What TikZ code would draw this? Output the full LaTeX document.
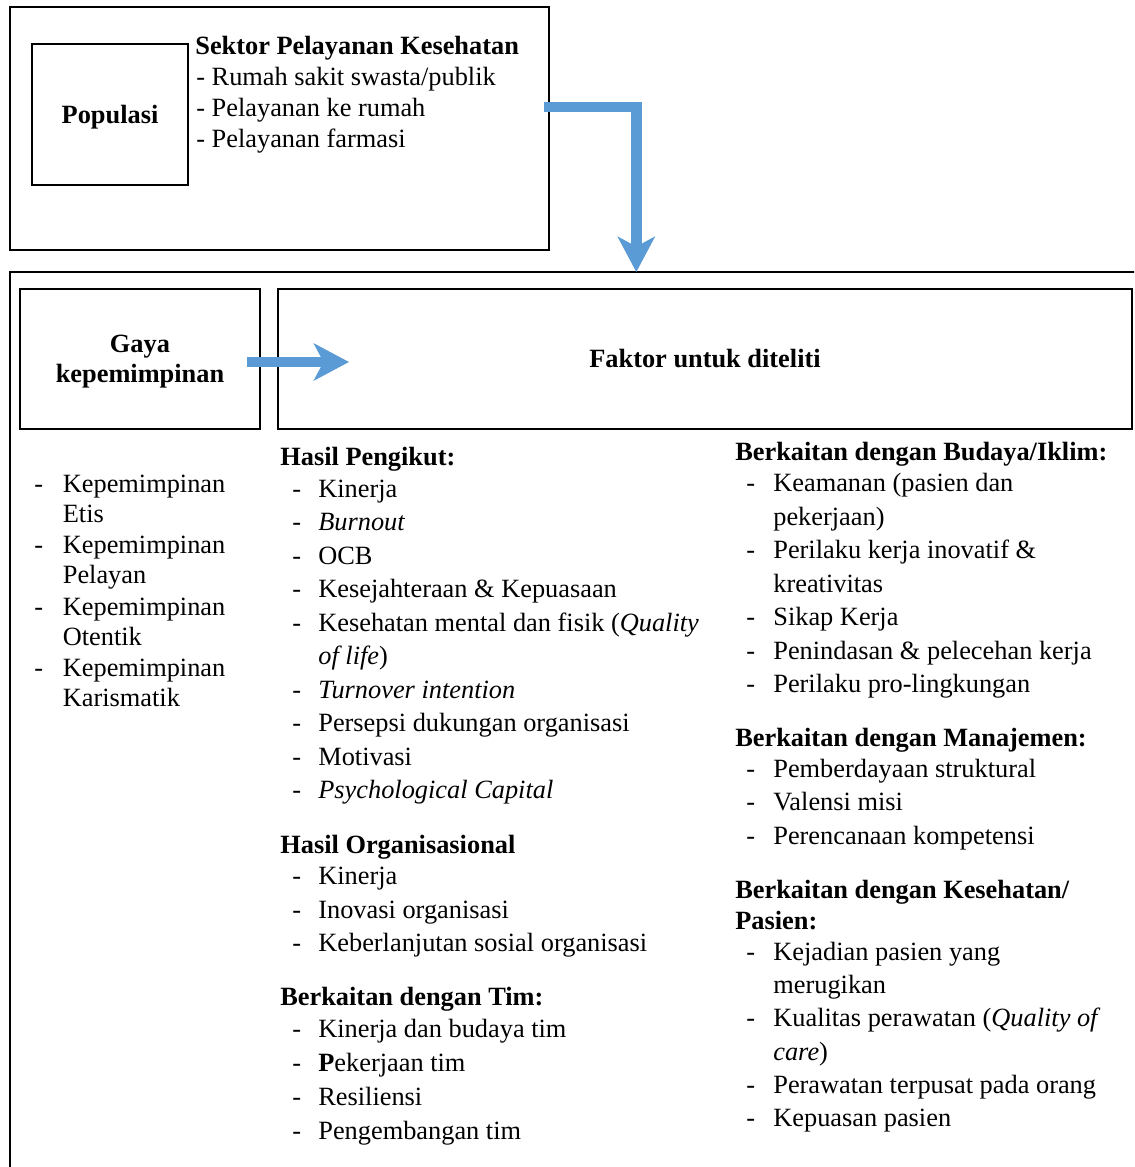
\documentclass[tikz,border=0pt]{standalone}
\usepackage{fontspec}
\setmainfont{Liberation Serif}
\usetikzlibrary{arrows.meta,positioning}
\definecolor{arrowblue}{RGB}{91,155,213}

\begin{document}
\begin{tikzpicture}[x=0.02cm, y=-0.02cm, font=\fontsize{15}{17}\selectfont,
  box/.style={draw, line width=1.2pt, inner sep=0pt},
  bf/.style={font=\fontsize{15}{17}\selectfont\bfseries},
  txt/.style={anchor=base west, inner sep=0pt},
  hd/.style={txt, bf},
  bluearrow/.style={draw=arrowblue, line width=6pt, -{Stealth[length=20pt, width=21pt, inset=5.5pt]}}]
  \useasboundingbox (0,0) rectangle (1134,1167);
  \clip (0,0) rectangle (1134,1167);

  % top part: population and sector
  \node[box, minimum width=10.78cm, minimum height=4.86cm] (sektorbox) at (279.5,128.5) {};
  \node[box, bf, text depth=0pt, minimum width=3.12cm, minimum height=2.82cm] (pop) at (110,114.5) {Populasi};
  \node[hd] (sek) at (195,54) {Sektor Pelayanan Kesehatan};
  \node[txt] (sek1) at (196,85) {- Rumah sakit swasta/publik};
  \node[txt] (sek2) at (196,116) {- Pelayanan ke rumah};
  \node[txt] (sek3) at (196,147) {- Pelayanan farmasi};

  % lower frame
  \draw[line width=1.2pt] (10,272) rectangle (1170,1200);
  \coordinate (drop) at (636.3,272);
  \node[box, bf, align=center, text depth=0pt, minimum width=4.8cm, minimum height=2.8cm] (gaya) at (140,359) {Gaya\\kepemimpinan};
  \node[box, bf, minimum width=17.08cm, minimum height=2.8cm] (faktor) at (705,359) {Faktor untuk diteliti};

  \draw[bluearrow] ([shift={(-6,-21.5)}]sektorbox.east) -| (drop);
  \draw[bluearrow] ([shift={(-14,3)}]gaya.east) -- ([shift={(72,3)}]faktor.west);

  % leadership styles
  \foreach \y/\t [count=\i] in {492/Etis, 553/Pelayan, 615/Otentik, 676/Karismatik}{
    \node[txt] (ld\i) at (34,\y) {-};
    \node[txt] (lk\i) at (62.5,\y) {Kepemimpinan};
    \node[txt] (lt\i) at (62.5,\y+30.5) {\t};
  }

  % follower outcomes
  \node[hd] (hp) at (280,465) {Hasil Pengikut:};
  \foreach \y/\t [count=\i] in {497.3/Kinerja, 530.8/\textit{Burnout}, 564.2/OCB,
      597.7/Kesejahteraan \& Kepuasaan, 631.1/Kesehatan mental dan fisik (\textit{Quality},
      698/\textit{Turnover intention}, 731.5/Persepsi dukungan organisasi, 765/Motivasi,
      798.4/\textit{Psychological Capital}}{
    \node[txt] (hpd\i) at (292,\y) {-};
    \node[txt] (hp\i) at (318,\y) {\t};
  }
  \node[txt] (hpc) at (318,664.6) {\textit{of life})};

  \node[hd] (ho) at (280,853.3) {Hasil Organisasional};
  \foreach \y/\t [count=\i] in {884.5/Kinerja, 918/Inovasi organisasi, 951.5/Keberlanjutan sosial organisasi}{
    \node[txt] (hod\i) at (292,\y) {-};
    \node[txt] (ho\i) at (318,\y) {\t};
  }

  \node[hd] (tim) at (280,1005.5) {Berkaitan dengan Tim:};
  \foreach \y/\t [count=\i] in {1037/Kinerja dan budaya tim, 1071.5/\textbf{P}ekerjaan tim, 1105.5/Resiliensi, 1139.3/Pengembangan tim}{
    \node[txt] (timd\i) at (292,\y) {-};
    \node[txt] (tim\i) at (318,\y) {\t};
  }

  % culture / climate
  \node[hd] (bud) at (735,460) {Berkaitan dengan Budaya/Iklim:};
  \foreach \y/\t [count=\i] in {491.7/Keamanan (pasien dan, 558.5/Perilaku kerja inovatif \&, 625.5/Sikap Kerja,
      659/Penindasan \& pelecehan kerja, 692.5/Perilaku pro-lingkungan}{
    \node[txt] (budd\i) at (746,\y) {-};
    \node[txt] (bud\i) at (773,\y) {\t};
  }
  \node[txt] (budc1) at (773,525) {pekerjaan)};
  \node[txt] (budc2) at (773,592) {kreativitas};

  % management
  \node[hd] (man) at (735,746) {Berkaitan dengan Manajemen:};
  \foreach \y/\t [count=\i] in {777/Pemberdayaan struktural, 810.5/Valensi misi, 844/Perencanaan kompetensi}{
    \node[txt] (mand\i) at (746,\y) {-};
    \node[txt] (man\i) at (773,\y) {\t};
  }

  % health / patient
  \node[hd] (kes) at (735,898) {Berkaitan dengan Kesehatan/};
  \node[hd] (kes0) at (735,929) {Pasien:};
  \foreach \y/\t [count=\i] in {960/Kejadian pasien yang, 1026.7/Kualitas perawatan (\textit{Quality of},
      1093.3/Perawatan terpusat pada orang, 1126.7/Kepuasan pasien}{
    \node[txt] (kesd\i) at (746,\y) {-};
    \node[txt] (kes\i) at (773,\y) {\t};
  }
  \node[txt] (kesc1) at (773,993.3) {merugikan};
  \node[txt] (kesc2) at (773,1060) {\textit{care})};
\end{tikzpicture}
\end{document}
